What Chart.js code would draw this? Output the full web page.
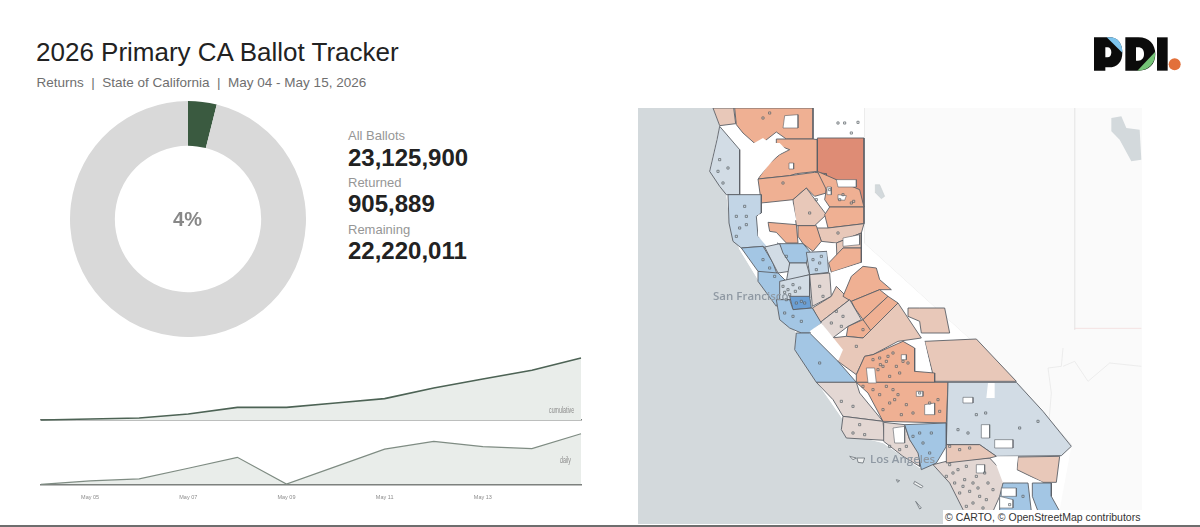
<!DOCTYPE html>
<html>
<head>
<meta charset="utf-8">
<script src="https://cdn.jsdelivr.net/npm/chart.js@4"></script>
<style>
html, body { margin: 0; padding: 0; background: #fff; overflow: hidden; }
body { width: 1200px; height: 527px; position: relative; font-family: "Liberation Sans", sans-serif; }
canvas, .txt, svg { position: absolute; }
.txt { white-space: nowrap; }
.thin { font-size: 8.5px; color: #8a8a8a; transform: scaleX(0.62); transform-origin: left top; }
#rule { position: absolute; left: 0; top: 525px; width: 1200px; height: 2px; background: #6e6e6e; }
</style>
</head>
<body>
<div class="txt" style="left:36px;top:37px;font-size:26px;color:#222">2026 Primary CA Ballot Tracker</div>
<div class="txt" style="left:36.5px;top:75px;font-size:13.5px;color:#6f6f6f">Returns &nbsp;|&nbsp; State of California &nbsp;|&nbsp; May 04 - May 15, 2026</div>

<svg style="left:1070px;top:20px" width="130" height="70" viewBox="0 0 390 210">
  <path d="M72 52H118C145 52 157 72 157 98C157 126 142 142 116 142H106V152H72ZM106 82V112H112C120 112 124 106 124 97C124 88 120 82 112 82Z" fill="#0b0b0b" fill-rule="evenodd"/>
  <path d="M110 52H120C145 52 157 72 157 98Z" fill="#7cc4ee"/>
  <path d="M166 52H205C238 52 256 74 256 102C256 132 238 152 205 152H166ZM198 82V122H204C216 122 222 114 222 102C222 90 216 82 204 82Z" fill="#0b0b0b" fill-rule="evenodd"/>
  <path d="M255 96C258 128 238 152 202 152Z" fill="#74c476"/>
  <rect x="261" y="52" width="32" height="100" fill="#0b0b0b"/>
  <circle cx="314" cy="133" r="18" fill="#e2703a"/>
</svg>

<canvas id="donut" style="left:69.5px;top:101px;width:236px;height:236px"></canvas>
<div class="txt" style="left:147.5px;top:208px;width:80px;text-align:center;font-size:20px;font-weight:bold;color:#888">4%</div>
<div id="stats"></div>

<canvas id="cumChart" style="left:31px;top:350px;width:560px;height:80px"></canvas>
<canvas id="dayChart" style="left:31px;top:425px;width:560px;height:85px"></canvas>
<div class="txt thin" style="left:549px;top:405px">cumulative</div>
<div class="txt thin" style="left:560px;top:455px">daily</div>

<canvas id="mapChart" style="left:638px;top:108px;width:504px;height:416px"></canvas>
<div class="txt" style="left:713px;top:288px;font-family:'Open Sans';font-weight:600;font-size:11.5px;color:#8f99a3">San Francisco</div>
<div class="txt" style="left:870px;top:451px;font-family:'Open Sans';font-weight:600;font-size:11.5px;color:#8f99a3">Los Angeles</div>
<div class="txt" style="left:943px;top:510px;width:199px;height:14px;background:#fff;font-size:10.5px;line-height:14px;color:#333;text-indent:2px">© CARTO, © OpenStreetMap contributors</div>
<div id="rule"></div>

<script>
// ballots
const statLabels = ['All Ballots', 'Returned', 'Remaining'];
const statValues = [23125900, 905889, 22220011];

// returns by day
const days = ['May 04', 'May 05', 'May 06', 'May 07', 'May 08', 'May 09', 'May 10', 'May 11', 'May 12', 'May 13', 'May 14', 'May 15'];
const tickDays = ['May 05', 'May 07', 'May 09', 'May 11', 'May 13'];
const cumulative = [0, 15000, 29000, 88000, 185000, 185000, 248000, 312000, 468000, 599000, 726000, 905889];
const daily = [0, 12000, 19000, 57000, 96000, 1000, 63000, 125000, 153000, 134000, 127000, 180000];

// map layers, in map units
const oceanShape = [[25,25],[250,25],[270,80],[240,210],[290,285],[300,370],[330,450],[385,540],[440,620],[500,700],[495,750],[560,845],[640,960],[640,1000],[760,1030],[870,1105],[910,1095],[960,1150],[1000,1230],[1030,1275],[25,1275]];
const stateShape = [[250,25],[703,25],[703,430],[1160,845],[1325,1040],[1290,1230],[1265,1275],[1030,1275],[1000,1230],[960,1150],[910,1095],[870,1105],[760,1030],[640,1000],[640,960],[560,845],[495,750],[500,700],[440,620],[385,540],[330,450],[300,370],[290,285],[240,210],[270,80]];
const saltLake = [[1445,55],[1475,50],[1490,85],[1530,90],[1535,180],[1505,185],[1470,120],[1445,95]];
const tahoe = [[737,255],[750,255],[765,290],[755,297],[738,280]];
const stateLines = [[[703,25],[703,430],[1160,845],[1325,1035]], [[1335,25],[1335,690]], [[1300,745],[1295,800],[1255,805],[1265,880],[1255,1000]], [[1300,800],[1335,785],[1375,845],[1440,790],[1535,800]]];
const redLine = [[1335,686],[1535,686]];
const islands = [[[660,1070],[680,1075],[670,1080]], [[682,1075],[705,1075],[700,1090],[685,1088]], [[855,1145],[880,1160],[875,1165],[852,1152]], [[800,1140],[810,1143],[804,1148]], [[858,1205],[875,1225],[870,1228]]];

// colour level per region: -3 blue ... 4 red, 9 no data
const regionLevels = [2, 3, 4, 3, 9, 0, 3, 2, 3, 3, 2, 9, 3, 3, -1, 9, -2, 0, -2, 0, -1, 9, 2, 3, 9, -2, 0, -3, 1, 2, 3, 3, 3, 3, 2, 1, -2, 9, -2, 2, 2, 9, 3, 1, 3, 0, 9, 1, 1, -2, 1, 2, 9, 2, -2, -2];
const regionShapes = [
  [[250,25],[312,25],[318,72],[270,78]],
  [[315,25],[550,25],[550,118],[470,118],[440,97],[385,140],[340,100],[320,75]],
  [[563,115],[703,115],[703,322],[690,290],[650,270],[620,240],[590,245],[563,215]],
  [[440,118],[550,118],[563,120],[563,215],[500,222],[480,228],[385,238],[415,195],[450,165],[480,150],[440,135]],
  [[330,155],[400,115],[420,130],[450,130],[470,150],[440,170],[385,235],[388,285],[330,285]],
  [[270,80],[330,150],[330,285],[290,285],[270,260],[240,215],[262,120]],
  [[385,238],[480,228],[555,218],[590,222],[590,280],[555,290],[530,265],[490,300],[395,310]],
  [[490,300],[530,265],[590,345],[555,378],[500,378],[495,340]],
  [[563,215],[620,240],[690,270],[703,322],[600,322],[585,300],[590,270]],
  [[600,322],[703,322],[703,372],[595,385],[585,345]],
  [[595,385],[703,372],[695,400],[620,430],[575,425],[560,385]],
  [[398,312],[490,312],[500,362],[415,365]],
  [[415,368],[500,375],[505,430],[470,430],[440,398],[420,395]],
  [[505,378],[560,378],[575,425],[550,455],[520,432],[505,410]],
  [[295,285],[395,285],[395,340],[380,350],[385,410],[410,430],[445,430],[450,445],[425,455],[400,440],[335,445],[310,425],[298,370]],
  [[385,345],[410,340],[415,395],[445,410],[440,450],[420,450],[385,410]],
  [[335,445],[400,440],[430,490],[450,545],[385,515]],
  [[405,442],[450,432],[480,490],[480,515],[445,520]],
  [[450,432],[520,432],[540,455],[530,490],[480,490],[460,460]],
  [[480,490],[530,490],[540,525],[470,545]],
  [[530,458],[592,455],[597,518],[540,525]],
  [[590,435],[620,430],[622,480],[595,480]],
  [[620,430],[695,400],[695,445],[640,445],[622,478]],
  [[597,490],[640,445],[695,445],[695,488],[605,518]],
  [[605,518],[695,490],[640,570],[625,560]],
  [[385,515],[445,520],[470,545],[450,600],[440,620],[385,545]],
  [[450,545],[540,525],[540,595],[480,600],[450,600]],
  [[480,590],[540,590],[545,625],[490,630]],
  [[540,525],[600,520],[605,590],[548,620]],
  [[548,625],[605,590],[620,560],[660,600],[572,668]],
  [[640,590],[665,530],[700,500],[740,505],[750,540],[785,570],[750,570],[665,605]],
  [[665,605],[750,570],[775,590],[700,660],[675,625]],
  [[700,660],[775,590],[805,610],[725,695],[705,680]],
  [[655,680],[700,660],[725,695],[700,715],[650,710]],
  [[605,715],[650,710],[700,715],[805,610],[875,715],[805,725],[730,765],[705,770],[680,825],[625,785]],
  [[572,668],[660,600],[695,660],[655,680],[605,718]],
  [[440,600],[480,600],[490,630],[548,625],[575,670],[540,700],[515,700],[480,685],[450,660]],
  [[540,695],[575,670],[640,750],[625,785]],
  [[500,700],[540,700],[625,785],[680,848],[560,848],[495,750]],
  [[835,625],[870,625],[945,625],[960,700],[875,700],[870,665],[835,650]],
  [[885,725],[1040,718],[1160,845],[915,845]],
  [[855,725],[885,725],[905,815],[860,810]],
  [[705,770],[730,765],[820,725],[855,745],[855,815],[915,820],[915,848],[680,848],[680,825]],
  [[560,848],[680,848],[690,880],[760,965],[640,950],[610,900]],
  [[680,848],[955,848],[950,970],[760,965],[715,880]],
  [[955,848],[1160,848],[1240,935],[1325,1040],[1295,1068],[1100,1070],[1050,1035],[950,1035]],
  [[1075,850],[1095,850],[1095,895],[1070,895]],
  [[640,950],[760,965],[765,1022],[650,1015],[635,990]],
  [[762,968],[825,975],[840,1020],[870,1060],[870,1100],[820,1070],[762,1025]],
  [[825,975],[950,970],[950,1040],[920,1090],[875,1110],[865,1060],[840,1020]],
  [[910,1095],[950,1085],[1080,1075],[1150,1150],[1110,1190],[1090,1235],[1085,1275],[1020,1275],[1000,1230],[960,1150]],
  [[1165,1072],[1290,1070],[1280,1148],[1240,1148],[1162,1110]],
  [[1090,1070],[1165,1070],[1160,1115],[1240,1148],[1120,1150]],
  [[950,1035],[1050,1035],[1100,1070],[1080,1075],[950,1090]],
  [[1120,1150],[1195,1150],[1205,1235],[1110,1235],[1110,1190]],
  [[1208,1150],[1265,1150],[1265,1190],[1290,1235],[1225,1235],[1208,1190]]
];
const noDataHoles = [
  [[465,48],[505,45],[505,85],[460,85]], [[620,240],[680,240],[680,262],[625,262]], [[592,262],[605,262],[605,285],[592,285]],
  [[625,285],[650,288],[645,302],[625,300]], [[478,190],[492,190],[492,208],[478,208]], [[640,415],[690,405],[690,435],[640,440]],
  [[710,805],[735,805],[740,850],[715,850]], [[815,765],[830,765],[830,780],[815,780]], [[860,875],[880,875],[880,890],[860,890]],
  [[885,915],[915,910],[915,945],[885,945]], [[1000,893],[1030,893],[1030,910],[1000,910]], [[1055,975],[1080,975],[1080,1015],[1055,1015]],
  [[1095,1020],[1150,1020],[1150,1045],[1095,1045]], [[790,985],[825,980],[825,1030],[795,1030]], [[1040,1095],[1065,1095],[1065,1120],[1040,1120]],
  [[1115,1165],[1160,1165],[1160,1190],[1115,1190]], [[1110,1190],[1150,1200],[1150,1225],[1110,1225]]
];
const regionColors = { '-3': '#6b9fd4', '-2': '#a3c6e4', '-1': '#c2d5e6', '0': '#d2dce5', '1': '#e3d7d3', '2': '#e8c8b9', '3': '#efb093', '4': '#de8c75', '9': '#ffffff' };
const enclaves = [[270,180],[265,215],[295,205],[280,250],[345,320],[350,350],[320,350],[330,385],[320,410],[350,375],[400,55],[420,40],[625,70],[645,70],[685,68],[665,100],[460,250],
  [640,285],[600,270],[630,300],[665,310],[672,305],[560,300],[540,340],[625,400],[470,470],[400,480],[420,505],[435,530],[550,480],[570,490],[575,470],[560,510],
  [460,560],[475,570],[490,555],[510,565],[465,578],[480,585],[497,575],[470,600],[500,610],[515,605],[525,610],[465,640],[490,650],[515,665],[570,560],[580,590],[620,635],[640,650],[605,670],[635,680],[700,690],[680,740],
  [570,790],[730,780],[750,775],[770,785],[790,760],[760,800],[745,810],[752,795],[780,830],[820,785],[800,800],[835,790],[775,770],[810,820],
  [700,860],[730,870],[750,885],[770,860],[790,870],[805,885],[795,900],[830,915],[870,880],[850,940],[780,910],[760,930],[815,945],[900,910],[925,900],[930,935],[635,905],[670,920],[690,975],[670,1000],[705,1005],
  [1040,945],[1068,940],[985,990],[1015,1000],[1225,965],[1170,985],[780,1040],[810,1050],[830,1040],[850,1010],[880,1030],[900,1060],[870,1000],[905,1000],[960,1040],[990,1050],[1020,1045],
  [960,1095],[985,1110],[1010,1100],[950,1130],[975,1150],[1005,1140],[1040,1130],[1065,1120],[990,1180],[1020,1175],[1050,1190],[1030,1210],[1060,1225],[1010,1220],[1090,1170],[1180,1190],[1140,1215],[970,1120],[1000,1160],[1030,1150],[1045,1165],[1075,1150],[1070,1200]];

function pts(list) {
  return list.map(function(p) { return { x: p[0], y: p[1] }; });
}

// closed filled polygon on the map scales
function area(list, fillColor, lineColor, lineWidth) {
  return {
    data: pts(list.concat([list[0]])),
    showLine: true,
    fill: 'shape',
    backgroundColor: fillColor,
    borderColor: lineColor,
    borderWidth: lineWidth,
    pointRadius: 0,
    tension: 0
  };
}

function line(list, lineColor) {
  return { data: pts(list), showLine: true, fill: false, borderColor: lineColor, borderWidth: 0.8, pointRadius: 0, tension: 0 };
}

document.getElementById('stats').innerHTML = statLabels.map(function(label, i) {
  var top = 128 + i * 46.8;
  return '<div class="txt" style="left:348px;top:' + top + 'px;font-size:13px;color:#969696">' + label + '</div>' +
    '<div class="txt" style="left:348px;top:' + (top + 15.5) + 'px;font-size:24px;font-weight:bold;color:#222">' + statValues[i].toLocaleString('en-US') + '</div>';
}).join('');

Chart.defaults.animation = false;
Chart.defaults.responsive = false;
Chart.defaults.plugins.legend.display = false;
Chart.defaults.plugins.tooltip.enabled = false;

function sizeUp(id, w, h) {
  var c = document.getElementById(id);
  c.width = w;
  c.height = h;
  return c.getContext('2d');
}

new Chart(sizeUp('donut', 236, 236), {
  type: 'doughnut',
  data: {
    labels: ['Returned', 'Remaining'],
    datasets: [{
      data: [statValues[1], statValues[2]],
      backgroundColor: ['#3a5a40', '#d9d9d9'],
      borderWidth: 0
    }]
  },
  options: { cutout: '62%', layout: { padding: 0 } }
});

function smallChart(id, h, values, lineColor, lineWidth, pad, axisHeight, showTicks) {
  return new Chart(sizeUp(id, 560, h), {
    type: 'line',
    data: {
      labels: days,
      datasets: [{
        data: values,
        fill: 'origin',
        clip: false,
        backgroundColor: '#e9edea',
        borderColor: lineColor,
        borderWidth: lineWidth,
        pointRadius: 0,
        tension: 0
      }]
    },
    options: {
      layout: { padding: pad },
      scales: {
        x: {
          afterFit: function(s) { s.height = axisHeight; },
          grid: { display: false },
          border: { display: true, color: '#7b7f7c', width: 1.5 },
          ticks: {
            display: showTicks,
            autoSkip: false,
            maxRotation: 0,
            padding: 2,
            color: '#8c8c8c',
            font: { family: 'Liberation Sans', size: 5.5 },
            callback: function(v) {
              var d = this.getLabelForValue(v);
              return tickDays.includes(d) ? d : '';
            }
          }
        },
        y: { display: false, min: 0, max: Math.max.apply(null, values) }
      }
    }
  });
}

smallChart('cumChart', 80, cumulative, '#4d6355', 1.6, { left: 10, right: 10, top: 8, bottom: 10 }, 0, false);
smallChart('dayChart', 85, daily, '#7f8c83', 1.2, { left: 10, right: 10, top: 8.7, bottom: 9.7 }, 16, true);

// layers listed bottom first, the library paints the first dataset last
var mapSets = [];
mapSets.push(area(oceanShape, '#d3d9dc', 'rgba(0,0,0,0)', 0));
mapSets.push(area(saltLake, '#d3d9dc', 'rgba(0,0,0,0)', 0));
mapSets.push(area(tahoe, '#d3d9dc', '#c4cacd', 0.5));
stateLines.forEach(function(s) { mapSets.push(line(s, '#e8e8e8')); });
mapSets.push(line(redLine, '#f3dcdc'));
mapSets.push(area(stateShape, '#ffffff', 'rgba(0,0,0,0)', 0));
islands.forEach(function(s) { mapSets.push(area(s, '#eef0f0', '#6a7177', 0.8)); });
regionShapes.forEach(function(s, i) {
  mapSets.push(area(s, regionColors[regionLevels[i]], regionLevels[i] === 9 ? 'rgba(0,0,0,0)' : '#5b6066', 0.9));
});
noDataHoles.forEach(function(s) { mapSets.push(area(s, '#ffffff', '#5b6066', 0.6)); });
mapSets.push({
  data: pts(enclaves),
  showLine: false,
  pointStyle: 'rect',
  pointRadius: 1.5,
  backgroundColor: 'rgba(255,255,255,0.35)',
  borderColor: '#555b61',
  borderWidth: 0.7
});
mapSets.reverse();

new Chart(sizeUp('mapChart', 504, 416), {
  type: 'scatter',
  data: { datasets: mapSets },
  options: {
    layout: { padding: 0, autoPadding: false },
    scales: {
      x: { display: false, min: 25, max: 1537 },
      y: { display: false, min: 25, max: 1273, reverse: true }
    },
    plugins: {
      filler: { propagate: false }
    }
  },
  plugins: [{
    id: 'land',
    beforeDraw: function(chart) {
      var c = chart.ctx;
      c.save();
      c.fillStyle = '#fafafa';
      c.fillRect(0, 0, chart.width, chart.height);
      c.restore();
    }
  }]
});
</script>
</body>
</html>
